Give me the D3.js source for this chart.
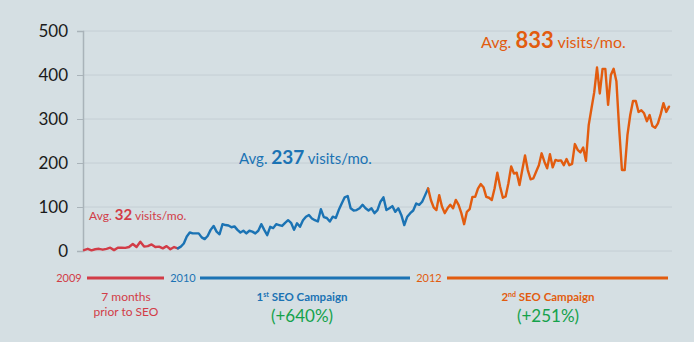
<!DOCTYPE html>
<html><head><meta charset="utf-8">
<script src="https://cdn.jsdelivr.net/npm/d3@7"></script>
<style>
html,body{margin:0;padding:0;background:#d5dfe3;}
svg{display:block;font-family:Lato,"Open Sans",sans-serif;}
</style></head>
<body>
<svg id="c" width="694" height="342"></svg>
<script>
// ---- data ----
const yTicks = [0, 100, 200, 300, 400, 500];
const years = ["2009", "2010", "2012"];
// weeks since start: red period, 1st campaign, 2nd campaign
const periodBounds = [0, 30, 110, 187];
const redValues = [2,5,1.5,4,5,3,5,7.5,2,7.5,7.5,7,9,16,9,21,10,11,15,9,10,6,11,4,9,6];
const blueValues = [6,10,17,33,42,40,40,40,31,27,34,48,57,44,38,61,59,58,54,56,48,42,46,40,46,44,40,46,61,48,36,55,52,61,59,57,64,70,64,
  48,63,55,70,78,82,74,70,67,95,77,75,67,78,75,93,108,122,125,97,92,93,97,105,97,92,97,86,93,112,122,93,97,102,89,97,82,59,78,86,92,108,105,112,127,142];
const orangeValues = [142,116,99,93,127,101,86,97,105,97,116,105,86,61,89,95,123,123,142,152,145,123,121,116,142,178,146,121,124,154,192,176,178,150,184,217,184,163,165,180,195,222,203,188,220,190,207,205,
  206,195,209,195,198,243,230,224,235,205,286,324,361,417,358,414,414,332,400,414,386,278,184,184,264,309,341,341,316,320,313,295,309,284,280,290,311,336,316,328];
const averages = [32, 237, 833];
const campaignLabels = ["7 months", "prior to SEO"];
const campaignGrowth = ["+640%", "+251%"];
const colors = {red:"#d23c47", blue:"#1b73b4", orange:"#e25c0f", green:"#14a24b"};

// ---- chart ----
const svg = d3.select("#c");
const x = d3.scaleLinear().domain([periodBounds[0], periodBounds[3]]).range([84, 669]);
const y = d3.scaleLinear().domain([0, 500]).range([251, 31]);

// gridlines
svg.append("g").selectAll("line").data(yTicks).join("line")
  .attr("x1", 83).attr("x2", 672)
  .attr("y1", d => y(d)).attr("y2", d => y(d))
  .attr("stroke", "#c4ced4").attr("stroke-width", 1);

// axis
const ax = svg.append("g").attr("transform", "translate(83,0)")
  .call(d3.axisLeft(y).tickValues(yTicks).tickSize(6).tickPadding(9));
ax.select(".domain").attr("stroke", "#a9b3b9").attr("stroke-width", 1.5);
ax.selectAll(".tick line").attr("stroke", "#a9b3b9");
ax.selectAll(".tick text").attr("fill", "#1a1a1a").style("font-size", "17px").style("font-family", "Lato,'Open Sans',sans-serif");

// series
function seriesPoints(vals, i) {
  const s = d3.scaleLinear().domain([0, vals.length - 1]).range([periodBounds[i], periodBounds[i + 1]]);
  return vals.map((v, k) => [s(k), v]);
}
const line = d3.line().x(d => x(d[0])).y(d => y(d[1])).curve(d3.curveLinear);
[[redValues, colors.red], [blueValues, colors.blue], [orangeValues, colors.orange]].forEach(([vals, c], i) => {
  svg.append("path").datum(seriesPoints(vals, i)).attr("d", line)
    .attr("fill", "none").attr("stroke", c).attr("stroke-width", 2.4)
    .attr("stroke-linejoin", "round").attr("stroke-linecap", "round");
});

// average annotations
function avgLabel(xp, yp, val, c, s1, s2) {
  const t = svg.append("text").attr("x", xp).attr("y", yp).attr("fill", c).style("font-size", s1 + "px");
  t.append("tspan").text("Avg. ");
  t.append("tspan").text(val).style("font-weight", "bold").style("font-size", s2 + "px");
  t.append("tspan").text(" visits/mo.");
}
avgLabel(89, 220, averages[0], colors.red, 12, 15);
avgLabel(239, 164, averages[1], colors.blue, 15, 19);
avgLabel(481, 48, averages[2], colors.orange, 16, 22);

// timeline
const tl = svg.append("g");
const yearPos = [[69, colors.red], [183, colors.blue], [429, colors.orange]];
years.forEach((yr, i) => {
  tl.append("text").attr("x", yearPos[i][0]).attr("y", 282).attr("text-anchor", "middle")
    .attr("fill", yearPos[i][1]).style("font-size", "11px").text(yr);
});
[[87, 164, colors.red], [200, 410, colors.blue], [447, 668, colors.orange]].forEach(b => {
  tl.append("line").attr("x1", b[0]).attr("x2", b[1]).attr("y1", 278).attr("y2", 278)
    .attr("stroke", b[2]).attr("stroke-width", 3);
});
campaignLabels.forEach((l, i) => {
  tl.append("text").attr("x", 126).attr("y", 301 + i * 15).attr("text-anchor", "middle")
    .attr("fill", colors.red).style("font-size", "12px").text(l);
});
function campaignTitle(cx, ord, sup, c) {
  const t = tl.append("text").attr("x", cx).attr("y", 301).attr("text-anchor", "middle")
    .attr("fill", c).style("font-size", "11.5px").style("font-weight", "bold");
  t.append("tspan").text(ord);
  t.append("tspan").text(sup).attr("dy", -4).style("font-size", "7px");
  t.append("tspan").text(" SEO Campaign").attr("dy", 4);
}
campaignTitle(302, "1", "st", colors.blue);
campaignTitle(548, "2", "nd", colors.orange);
[[302, campaignGrowth[0]], [548, campaignGrowth[1]]].forEach(g => {
  tl.append("text").attr("x", g[0]).attr("y", 322).attr("text-anchor", "middle")
    .attr("fill", colors.green).style("font-size", "17px").text("(" + g[1] + ")");
});
</script>
</body></html>
